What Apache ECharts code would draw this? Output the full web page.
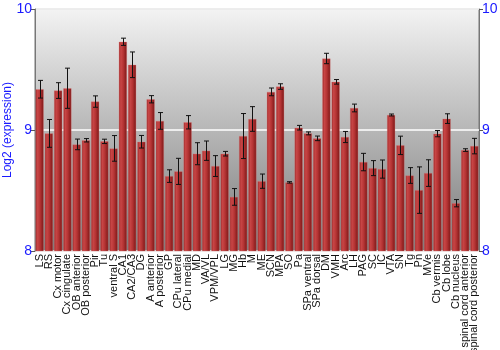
<!DOCTYPE html>
<html><head><meta charset="utf-8">
<script src="https://cdn.jsdelivr.net/npm/echarts@6/dist/echarts.min.js"></script>
<style>html,body{margin:0;padding:0;background:#fff}#c{width:500px;height:350px}</style>
</head><body><div id="c"></div>
<script>
const categories = ["LS","RS","Cx motor","Cx cingulate","OB anterior","OB posterior","Pir","Tu","ventral S","CA1","CA2/CA3","DG","A anterior","A posterior","GP","CPu lateral","CPu medial","MD","VA/VL","VPM/VPL","LG","MG","Hb","M","ME","SCN","MPA","SO","Pa","SPa ventral","SPa dorsal","DM","VMH","Arc","LH","PAG","SC","IC","VTA","SN","Tg","Pn","MVe","Cb vermis","Cb lobe","Cb nucleus","spinal cord anterior","spinal cord posterior"];
const values = [9.337,8.972,9.326,9.345,8.881,8.915,9.235,8.906,8.848,9.729,9.539,8.903,9.254,9.075,8.619,8.658,9.064,8.804,8.829,8.702,8.804,8.447,8.950,9.091,8.577,9.315,9.359,8.567,9.019,8.972,8.931,9.591,9.398,8.942,9.182,8.735,8.685,8.677,9.124,8.873,8.624,8.503,8.644,8.970,9.094,8.395,8.834,8.867];
const errors = [0.073,0.115,0.065,0.166,0.044,0.014,0.047,0.018,0.106,0.030,0.106,0.052,0.030,0.069,0.052,0.108,0.055,0.091,0.080,0.086,0.019,0.069,0.186,0.102,0.059,0.032,0.023,0.006,0.019,0.012,0.019,0.043,0.019,0.046,0.032,0.072,0.062,0.075,0.008,0.076,0.065,0.192,0.110,0.026,0.040,0.030,0.011,0.064];
const yTicks = [8, 9, 10];
const yTitle = 'Log2 (expression)';

const chart = echarts.init(document.getElementById('c'), null, {renderer:'canvas'});
const errData = values.map((v,i)=>[i, v-errors[i], v+errors[i]]);
const blue = '#1a1aff';
chart.setOption({
  animation:false,
  graphic:[{type:'text',x:8,y:130,rotation:Math.PI/2,
    style:{text:yTitle,fill:blue,font:'12px "Liberation Sans"',align:'center',verticalAlign:'middle'}}],
  grid:{left:35,right:21,top:9,bottom:99,show:true,borderWidth:1,borderColor:'#777',
    outerBoundsMode:'none',containLabel:false,
    backgroundColor:new echarts.graphic.LinearGradient(0,0,0,1,[{offset:0,color:'#f3f3f3'},{offset:1,color:'#7a7a7a'}])},
  xAxis:{type:'category',data:categories,
    axisLine:{show:false},axisTick:{show:false},
    axisLabel:{rotate:90,interval:0,fontFamily:'Liberation Sans',fontSize:11,color:'#111',margin:3}},
  yAxis:[
    {type:'value',min:yTicks[0],max:yTicks[2],interval:1,position:'left',
     axisLine:{show:true,lineStyle:{color:'#777'}},axisTick:{show:true,length:4,lineStyle:{color:'#555'}},
     axisLabel:{color:blue,fontFamily:'Liberation Sans',fontSize:14,margin:3},
     splitLine:{show:true,lineStyle:{color:'#ffffff',width:1.5}}},
    {type:'value',min:yTicks[0],max:yTicks[2],interval:1,position:'right',
     axisLine:{show:true,lineStyle:{color:'#777'}},axisTick:{show:true,length:4,lineStyle:{color:'#555'}},
     axisLabel:{color:blue,fontFamily:'Liberation Sans',fontSize:14,margin:3},
     splitLine:{show:false}}
  ],
  series:[
    {type:'bar',data:values,barCategoryGap:'12%',
     itemStyle:{color:new echarts.graphic.LinearGradient(0,0,1,0,[
       {offset:0,color:'#9a2424'},{offset:0.25,color:'#c84646'},{offset:0.55,color:'#b53434'},{offset:1,color:'#7a1616'}]),
       borderColor:'rgba(230,120,120,0.6)',borderWidth:0.5}},
    {type:'custom',data:errData,z:10,
     renderItem:function(params,api){
       const x=api.value(0);
       const lo=api.coord([x,api.value(1)]);
       const hi=api.coord([x,api.value(2)]);
       const cx=Math.round(lo[0])+0.5, w=2.5;
       return {type:'group',children:[
         {type:'line',shape:{x1:cx,y1:hi[1],x2:cx,y2:lo[1]},style:{stroke:'#111',lineWidth:1}},
         {type:'line',shape:{x1:cx-w,y1:hi[1],x2:cx+w,y2:hi[1]},style:{stroke:'#111',lineWidth:1}},
         {type:'line',shape:{x1:cx-w,y1:lo[1],x2:cx+w,y2:lo[1]},style:{stroke:'#111',lineWidth:1}}
       ]};
     }}
  ]
});
</script></body></html>
